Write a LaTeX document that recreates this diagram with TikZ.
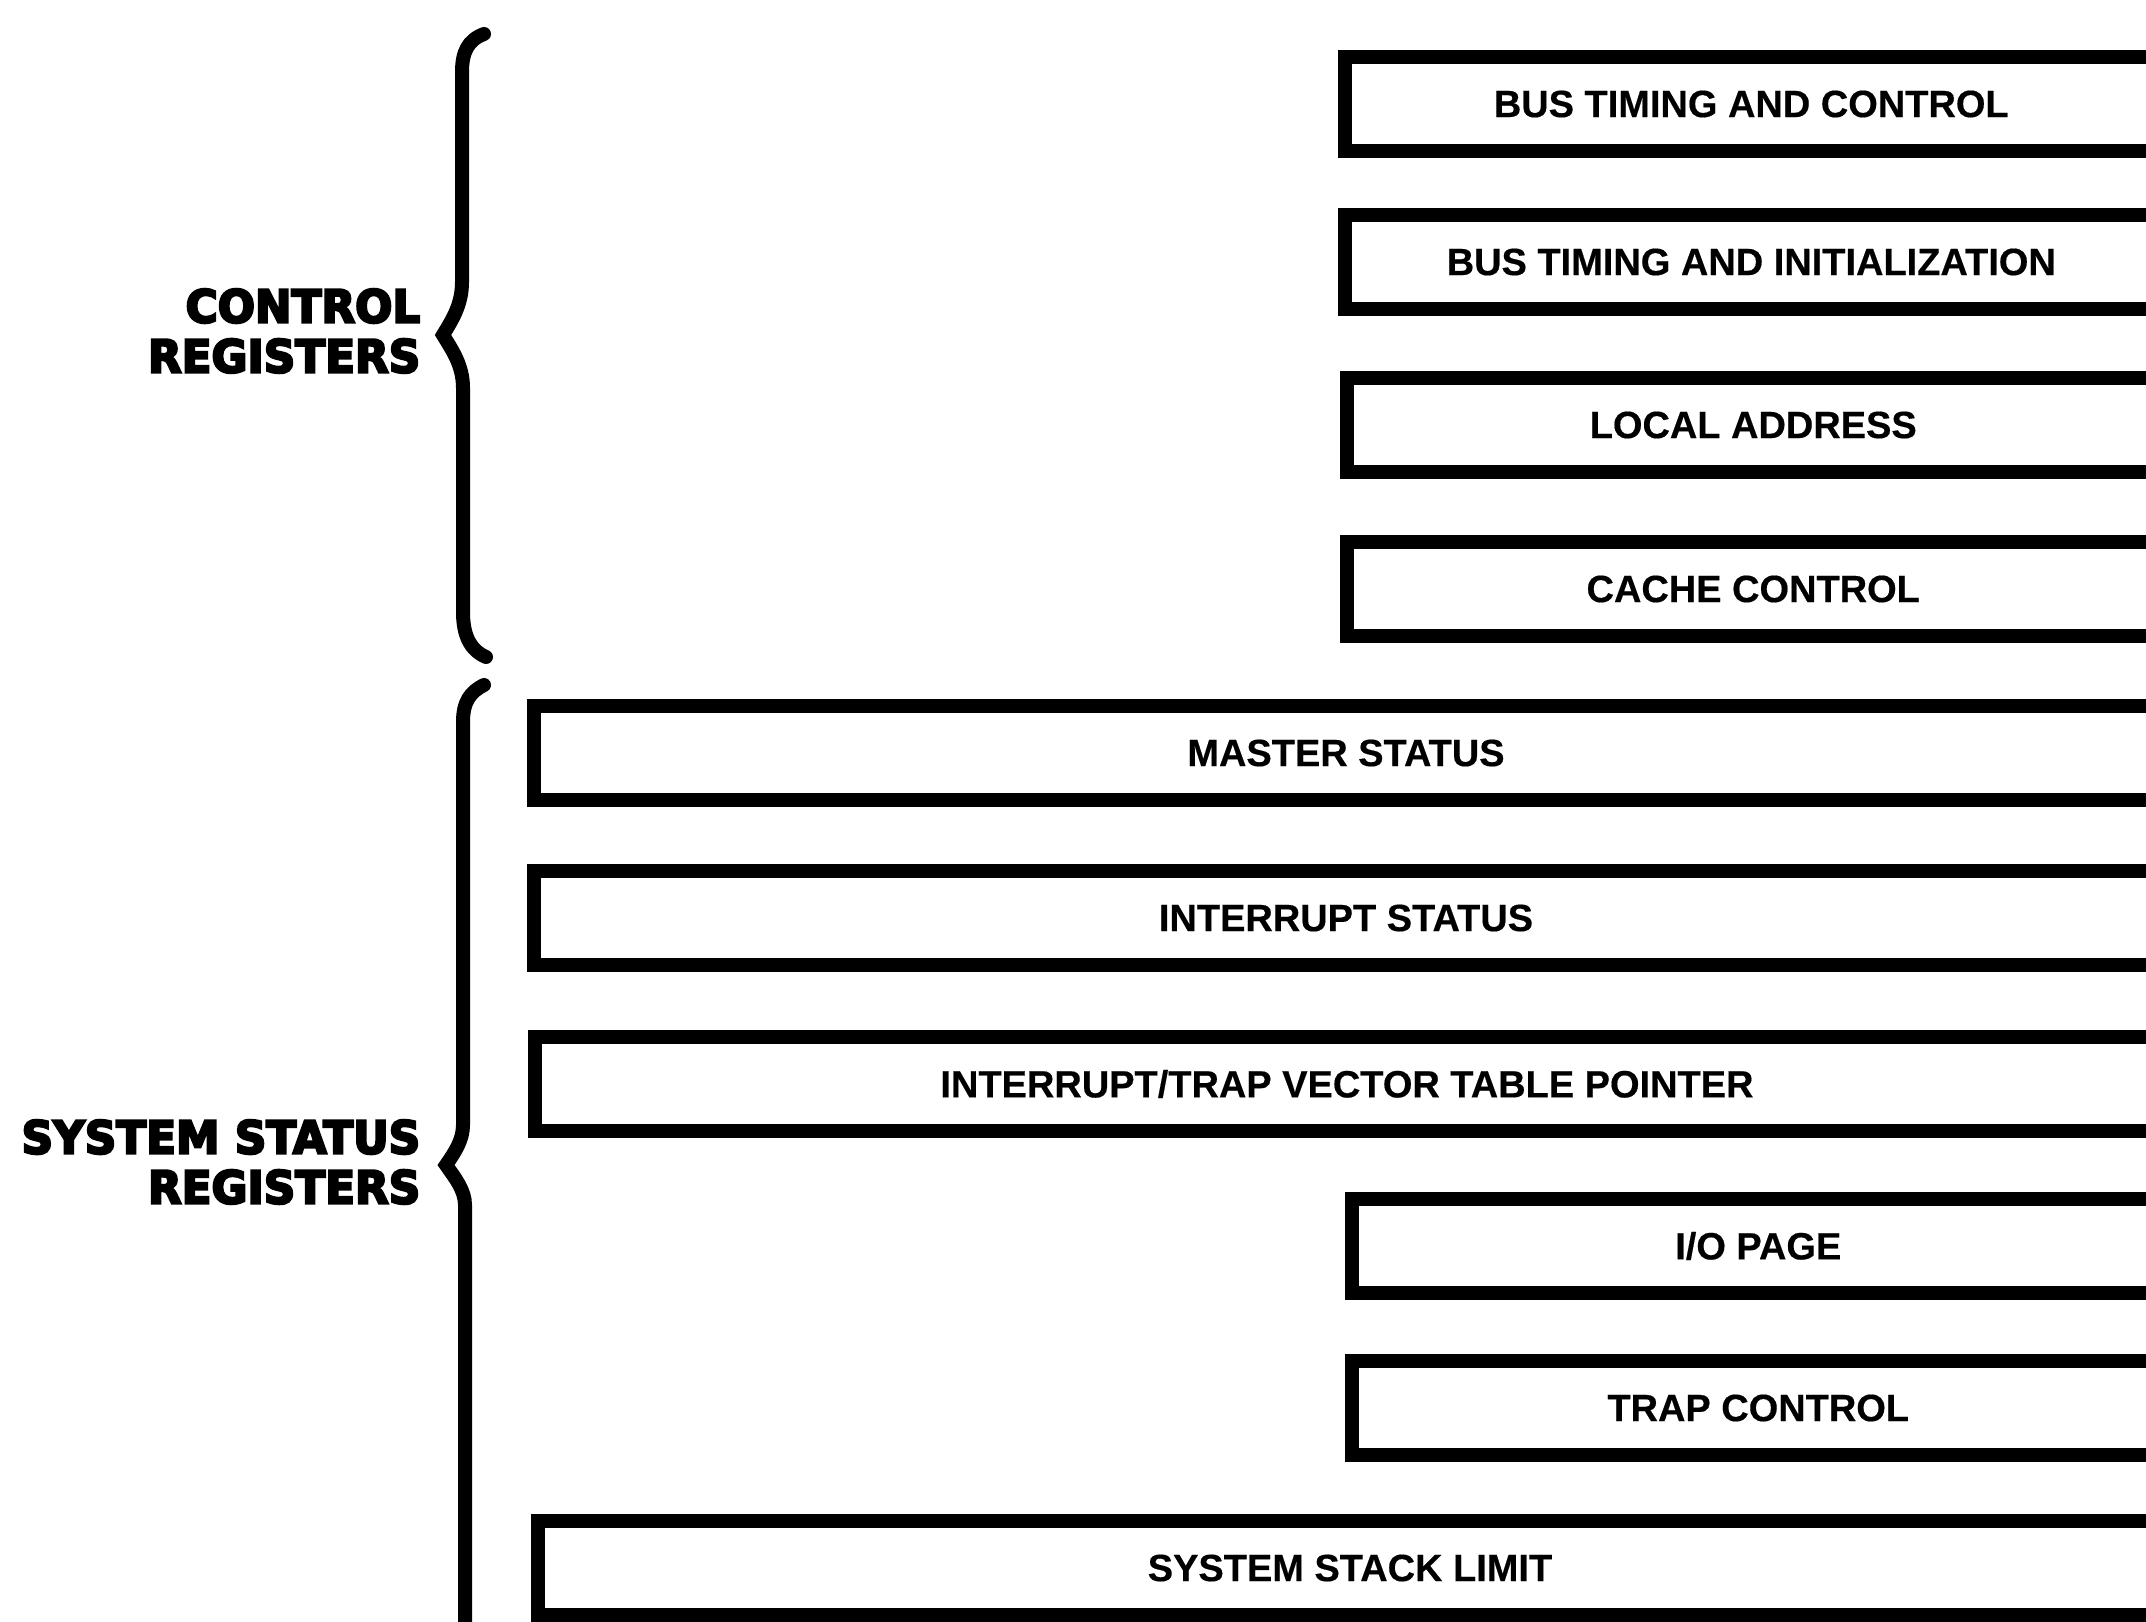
\documentclass[tikz,border=0pt]{standalone}
\usepackage{fontspec}
\setmainfont{Liberation Sans}[BoldFeatures={FakeBold=0.4}]
\newfontfamily\heavyfont[FakeBold=5,FakeStretch=0.965]{DejaVu Sans Bold}
\usetikzlibrary{positioning}

\begin{document}
\begin{tikzpicture}[
  x=0.01cm,y=-0.01cm,
  reg/.style={draw,line width=0.14cm,minimum height=0.93cm,anchor=west,inner sep=0pt,font=\fontsize{10.8}{13}\selectfont\bfseries},
  shortreg/.style={reg,minimum width=8.12cm},
  longreg/.style={reg,minimum width=16.23cm},
  group/.style={align=right,anchor=east,inner sep=0pt,font=\heavyfont\fontsize{12.9}{14.2}\selectfont},
  brace/.style={line width=0.14cm,line cap=round}
]
  \useasboundingbox (0,0) rectangle (2146,1622);
  \clip (0,0) rectangle (2146,1622);

  % control registers
  \node[shortreg] (bustc) at (1338,104) {BUS TIMING AND CONTROL};
  \node[shortreg] (busti) at (1338,262) {BUS TIMING AND INITIALIZATION};
  \node[shortreg] (local) at (1340,425) {LOCAL ADDRESS};
  \node[shortreg] (cache) at (1340,589) {CACHE CONTROL};

  % system status registers
  \node[longreg] (master) at (527,753) {MASTER STATUS};
  \node[longreg] (intstat) at (527,918) {INTERRUPT STATUS};
  \node[longreg] (vector) at (528,1084) {INTERRUPT/TRAP VECTOR TABLE POINTER};
  \node[shortreg] (iopage) at (1345,1246) {I/O PAGE};
  \node[shortreg] (trap) at (1345,1408) {TRAP CONTROL};
  \node[longreg] (stack) at (531,1568) {SYSTEM STACK LIMIT};

  \node[group] (ctrl) at (421,331) {CONTROL\\REGISTERS};
  \node[group] (sys) at (421,1162) {SYSTEM STATUS\\REGISTERS};

  % braces
  \draw[brace] (484,34) .. controls (468,40) and (462,52) .. (462,72) -- (462,282)
    .. controls (462,305) and (452,320) .. (443,335)
    .. controls (452,350) and (463,365) .. (463,388) -- (463,612)
    .. controls (463,635) and (470,650) .. (486,657);
  \draw[brace] (484,685) .. controls (470,692) and (463,702) .. (463,722) -- (463,1125)
    .. controls (463,1140) and (455,1152) .. (446,1165)
    .. controls (455,1178) and (465,1190) .. (465,1205) -- (465,1640);
\end{tikzpicture}
\end{document}
